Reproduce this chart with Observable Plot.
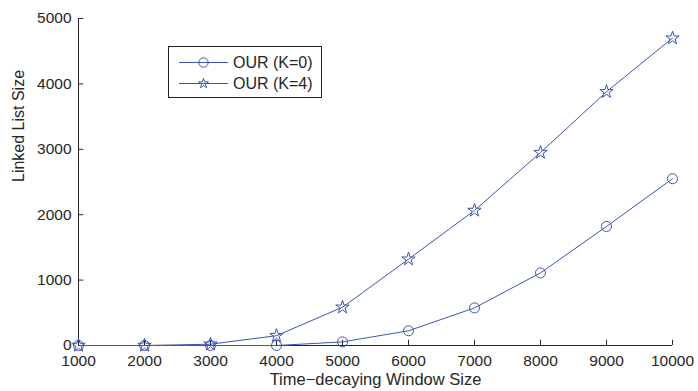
<!DOCTYPE html>
<html><head><meta charset="utf-8">
<script src="https://cdn.jsdelivr.net/npm/d3@7"></script>
<script src="https://cdn.jsdelivr.net/npm/@observablehq/plot@0.6"></script>
<style>
body{margin:0;background:#fff;font-family:"Liberation Sans",Arial,sans-serif;}
#wrap{position:relative;width:698px;height:391px;}
#legend{position:absolute;left:168px;top:46px;width:154px;height:52px;border:1px solid #222;background:#fff;box-sizing:border-box;}
</style></head>
<body><div id="wrap"><div id="chart"></div><div id="legend"></div></div>
<script>
const windowSizes = [1000,2000,3000,4000,5000,6000,7000,8000,9000,10000];
const seriesNames = ["OUR (K=0)","OUR (K=4)"];
const k0 = [0,0,0,0,55,225,575,1110,1820,2550];
const k4 = [0,0,20,150,585,1320,2065,2950,3880,4700];
const xTicks = [1000,2000,3000,4000,5000,6000,7000,8000,9000,10000];
const yTicks = [0,1000,2000,3000,4000,5000];

const color = "#3a55b6";
const ink = "#262626";
const data = [];
windowSizes.forEach((w,i)=>{data.push({x:w,y:k0[i],s:seriesNames[0]});});
windowSizes.forEach((w,i)=>{data.push({x:w,y:k4[i],s:seriesNames[1]});});
const d0 = data.filter(d=>d.s===seriesNames[0]);
const d4 = data.filter(d=>d.s===seriesNames[1]);

const plot = Plot.plot({
  width:698, height:391,
  marginLeft:78, marginRight:26, marginTop:18, marginBottom:46,
  style:{fontFamily:"'Liberation Sans',Arial,sans-serif", fontSize:"15.5px", color:ink, background:"#fff"},
  x:{domain:[1000,10000]},
  y:{domain:[0,5000]},
  marks:[
    Plot.axisX({ticks:xTicks, tickSize:0, tickPadding:9, tickFormat:d=>String(d), fontSize:15.5, label:null}),
    Plot.axisY({ticks:yTicks, tickSize:0, tickPadding:7, tickFormat:d=>String(d), fontSize:15.5, label:null}),
    Plot.text(["Time\u2212decaying Window Size"], {frameAnchor:"bottom", dy:39, fontSize:16.5, fill:ink}),
    Plot.text(["Linked List Size"], {frameAnchor:"left", dx:-60, rotate:-90, fontSize:16, fill:ink}),
    Plot.ruleX(xTicks, {x:d=>d, y1:0, y2:80, stroke:ink}),
    Plot.ruleY(yTicks, {y:d=>d, x1:1000, x2:1080, stroke:ink}),
    Plot.ruleX([1000], {stroke:ink}),
    Plot.ruleY([0], {stroke:ink}),
    Plot.line(d0, {x:"x", y:"y", stroke:color, strokeWidth:1}),
    Plot.line(d4, {x:"x", y:"y", stroke:color, strokeWidth:1}),
    Plot.dot(d0, {x:"x", y:"y", r:5, stroke:color, fill:"none", strokeWidth:1, symbol:"circle"}),
    Plot.dot(d4, {x:"x", y:"y", r:4.2, stroke:color, fill:"none", strokeWidth:1, symbol:"star"})
  ]
});
document.getElementById("chart").appendChild(plot);

// legend
const lg = d3.select("#legend").append("svg").attr("width",152).attr("height",50);
seriesNames.forEach((name,i)=>{
  const y = 15.5 + i*21;
  lg.append("line").attr("x1",10).attr("x2",59).attr("y1",y).attr("y2",y).attr("stroke",color).attr("stroke-width",1);
  const sym = i===0 ? d3.symbolCircle : d3.symbolStar;
  const size = i===0 ? Math.PI*22 : 30;
  lg.append("path").attr("d", d3.symbol(sym, size)()).attr("transform",`translate(34.5,${y})`).attr("fill","none").attr("stroke",color);
  lg.append("text").attr("x",64).attr("y",y).attr("dy","0.35em").attr("font-size",16).attr("font-family","'Liberation Sans',Arial,sans-serif").attr("fill",ink).text(name);
});
</script></body></html>
